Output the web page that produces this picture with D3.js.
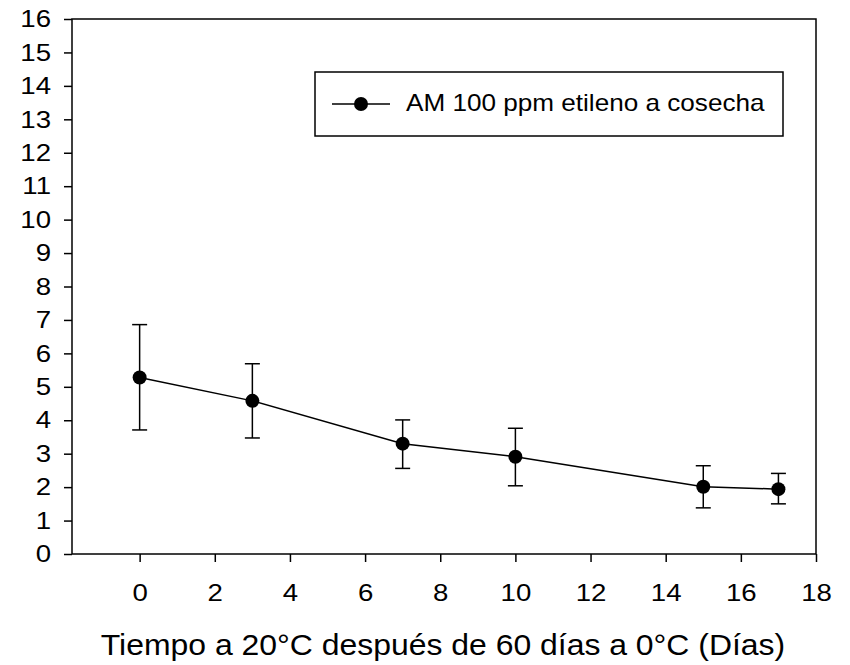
<!DOCTYPE html>
<html>
<head>
<meta charset="utf-8">
<script src="https://cdn.jsdelivr.net/npm/d3@7"></script>
<style>
  body { margin: 0; background: #fff; }
  svg { display: block; font-family: 'Liberation Sans', Arial, sans-serif; }
</style>
</head>
<body>
<div id="chart"></div>
<script>
// data
const days = [0, 3, 7, 10, 15, 17];
const means = [5.28, 4.58, 3.3, 2.91, 2.01, 1.94];
const upper = [6.86, 5.69, 4.01, 3.76, 2.64, 2.41];
const lower = [3.71, 3.47, 2.56, 2.04, 1.38, 1.5];
const xTicks = [0, 2, 4, 6, 8, 10, 12, 14, 16, 18];
const yTicks = d3.range(0, 17);
const seriesName = 'AM 100 ppm etileno a cosecha';
const xTitle = 'Tiempo a 20°C después de 60 días a 0°C (Días)';

const svgWidth = 850;
const svgHeight = 665;
const marginTop = 19;
const marginRight = 34;
const marginBottom = 111;
const marginLeft = 72;
const fontFamily = "'Liberation Sans', Arial, sans-serif";

const points = days.map((d, i) => ({ x: d, y: means[i], hi: upper[i], lo: lower[i] }));

const xScale = d3.scaleLinear()
  .domain([-1.8, 18])
  .range([marginLeft, svgWidth - marginRight]);

const yScale = d3.scaleLinear()
  .domain([0, 16])
  .range([svgHeight - marginBottom, marginTop]);

const svg = d3.select('#chart').append('svg')
  .attr('width', svgWidth)
  .attr('height', svgHeight);

// the original text is a bit wider than the font, stretch it a little
function widen(sel, k) {
  sel.each(function () {
    const w = this.getComputedTextLength();
    d3.select(this).attr('textLength', w * k).attr('lengthAdjust', 'spacingAndGlyphs');
  });
}

// frame
svg.append('rect')
  .attr('x', marginLeft)
  .attr('y', marginTop)
  .attr('width', svgWidth - marginLeft - marginRight)
  .attr('height', svgHeight - marginTop - marginBottom)
  .attr('fill', 'none')
  .attr('stroke', '#000')
  .attr('stroke-width', 1.5);

// x axis
svg.append('g')
  .attr('transform', `translate(0,${yScale(0)})`)
  .call(d3.axisBottom(xScale).tickValues(xTicks).tickSize(8).tickPadding(22).tickSizeOuter(0))
  .call((g) => g.select('.domain').remove())
  .call((g) => g.selectAll('line').attr('stroke', '#000').attr('stroke-width', 1.5))
  .call((g) => g.selectAll('text').attr('font-size', 24).attr('fill', '#000')
    .attr('font-family', fontFamily).call(widen, 1.15));

// y axis
svg.append('g')
  .attr('transform', `translate(${marginLeft},0)`)
  .call(d3.axisLeft(yScale).tickValues(yTicks).tickSize(8).tickPadding(13).tickSizeOuter(0))
  .call((g) => g.select('.domain').remove())
  .call((g) => g.selectAll('line').attr('stroke', '#000').attr('stroke-width', 1.5))
  .call((g) => g.selectAll('text').attr('font-size', 24).attr('fill', '#000')
    .attr('font-family', fontFamily).call(widen, 1.15));

// x title
svg.append('text')
  .attr('x', 443)
  .attr('y', 655)
  .attr('text-anchor', 'middle')
  .attr('font-size', 30)
  .attr('fill', '#000')
  .text(xTitle)
  .call(widen, 1.064);

// error bars
const capHalf = 7.5;
const err = svg.append('g').attr('stroke', '#000').attr('stroke-width', 1.5);
err.selectAll('line.bar').data(points).join('line')
  .attr('class', 'bar')
  .attr('x1', (d) => xScale(d.x)).attr('x2', (d) => xScale(d.x))
  .attr('y1', (d) => yScale(d.hi)).attr('y2', (d) => yScale(d.lo));
err.selectAll('line.cap-hi').data(points).join('line')
  .attr('class', 'cap-hi')
  .attr('x1', (d) => xScale(d.x) - capHalf).attr('x2', (d) => xScale(d.x) + capHalf)
  .attr('y1', (d) => yScale(d.hi)).attr('y2', (d) => yScale(d.hi));
err.selectAll('line.cap-lo').data(points).join('line')
  .attr('class', 'cap-lo')
  .attr('x1', (d) => xScale(d.x) - capHalf).attr('x2', (d) => xScale(d.x) + capHalf)
  .attr('y1', (d) => yScale(d.lo)).attr('y2', (d) => yScale(d.lo));

// line
const line = d3.line().x((d) => xScale(d.x)).y((d) => yScale(d.y));
svg.append('path')
  .datum(points)
  .attr('d', line)
  .attr('fill', 'none')
  .attr('stroke', '#000')
  .attr('stroke-width', 1.5);

// markers
svg.append('g').selectAll('circle').data(points).join('circle')
  .attr('cx', (d) => xScale(d.x))
  .attr('cy', (d) => yScale(d.y))
  .attr('r', 7)
  .attr('fill', '#000');

// legend
const legend = svg.append('g').attr('transform', 'translate(315,72)');
legend.append('rect')
  .attr('width', 468)
  .attr('height', 64)
  .attr('fill', '#fff')
  .attr('stroke', '#000')
  .attr('stroke-width', 1.5);
legend.append('line')
  .attr('x1', 17).attr('x2', 75)
  .attr('y1', 32).attr('y2', 32)
  .attr('stroke', '#000').attr('stroke-width', 1.5);
legend.append('circle')
  .attr('cx', 46).attr('cy', 32).attr('r', 7).attr('fill', '#000');
legend.append('text')
  .attr('x', 91)
  .attr('y', 39)
  .attr('font-size', 24)
  .attr('fill', '#000')
  .text(seriesName)
  .call(widen, 1.088);
</script>
</body>
</html>
